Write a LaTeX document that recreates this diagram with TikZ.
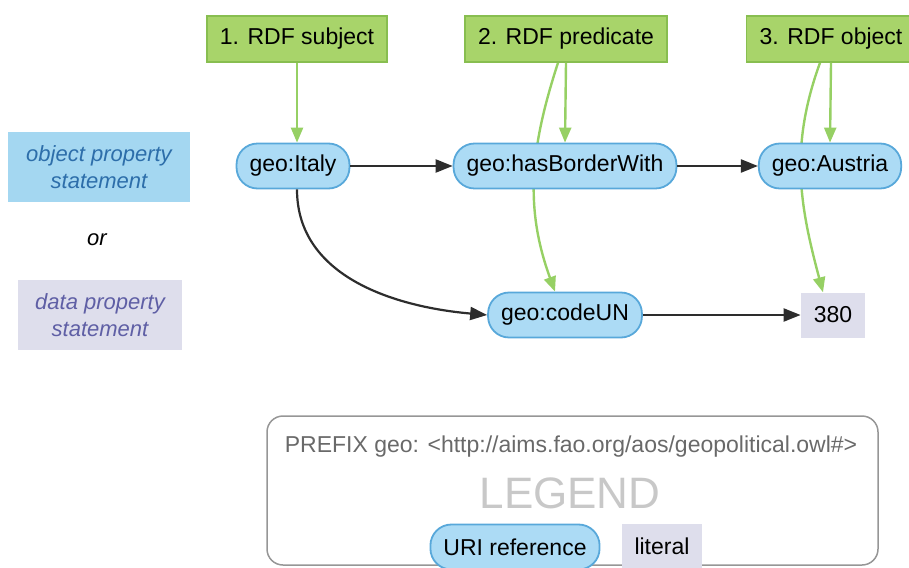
\documentclass[tikz,border=0pt]{standalone}
\usepackage{fontspec}
\setmainfont{Liberation Sans}
\usetikzlibrary{arrows.meta}
\pgfdeclarelayer{back}
\pgfsetlayers{back,main}
\definecolor{rolefill}{RGB}{168,212,106}
\definecolor{roleline}{RGB}{136,190,80}
\definecolor{roleedge}{RGB}{150,208,100}
\definecolor{urifill}{RGB}{172,219,245}
\definecolor{uriline}{RGB}{88,168,218}
\definecolor{litfill}{RGB}{222,222,236}
\definecolor{objfill}{RGB}{164,215,241}
\definecolor{objtext}{RGB}{45,110,170}
\definecolor{datatext}{RGB}{95,95,165}
\definecolor{legline}{RGB}{150,150,150}
\definecolor{prefixtext}{RGB}{105,105,105}
\definecolor{legendtext}{RGB}{200,200,200}
\definecolor{edgeline}{RGB}{45,45,45}
\begin{document}
\begin{tikzpicture}[x=1pt,y=-1pt,
    every node/.style={font=\fontsize{23}{27}\selectfont, inner xsep=13pt, inner ysep=0pt},
    role/.style={draw=roleline, line width=1.5pt, fill=rolefill, minimum height=46pt},
    uri/.style={draw=uriline, line width=1.8pt, fill=urifill, rounded corners=21pt, minimum height=45pt},
    lit/.style={fill=litfill, minimum height=45pt},
    kind/.style={font=\fontsize{22}{27}\selectfont\itshape, align=center, minimum height=70pt},
    link/.style={-{Triangle[length=17pt,width=13pt]}, draw=edgeline, line width=2.2pt},
    rolelink/.style={-{Triangle[length=15pt,width=12pt]}, draw=roleedge, line width=2.4pt}]
  \useasboundingbox (0,0) rectangle (909,567);
  \clip (0,0) rectangle (909,567);
  % RDF roles
  \node[role] (subj) at (297,39) {1. RDF subject};
  \node[role] (pred) at (566,39) {2. RDF predicate};
  \node[role] (obj) at (831,39) {3. RDF object};
  % kinds of statement
  \node[kind, fill=objfill, text=objtext, minimum width=182pt] (objstmt) at (99,167) {object property\\statement};
  \node[font=\fontsize{22}{27}\selectfont\itshape] (or) at (97,240) {or};
  \node[kind, fill=litfill, text=datatext, minimum width=164pt] (datastmt) at (100,315) {data property\\statement};
  % triples
  \node[uri] (italy) at (293,166) {geo:Italy};
  \node[uri] (border) at (565,166) {geo:hasBorderWith};
  \node[uri] (austria) at (830,166) {geo:Austria};
  \node[uri] (code) at (565,315) {geo:codeUN};
  \node[lit] (num) at (833,315) {380};
  % legend
  \node[draw=legline, line width=1.5pt, rounded corners=16pt, minimum width=611pt, minimum height=149pt] (legend) at (572.5,490.5) {};
  \node[text=prefixtext] (prefix) at (571,447) {PREFIX geo: <http://aims.fao.org/aos/geopolitical.owl\#>};
  \node[text=legendtext, font=\fontsize{44}{50}\selectfont] (title) at (570,493) {LEGEND};
  \node[uri] (keyuri) at (515,547) {URI reference};
  \node[lit] (keylit) at (662,546) {literal};
  \begin{scope}
    \draw[link] (italy) -- (border);
    \draw[link] (border) -- (austria);
    \draw[link] ([xshift=4pt]italy.south) to[out=-90,in=175] (code.west);
    \draw[link] (code) -- (num);
    \draw[rolelink] (subj.south) -- (subj.south |- italy.north);
    \draw[rolelink] (pred.south) -- (border.north);
    \draw[rolelink] (obj.south) -- (austria.north);
  \end{scope}
  \begin{pgfonlayer}{back}
    \draw[rolelink] ([xshift=-8pt]pred.south) to[out=-108,in=110] ([xshift=-10pt]code.north);
    \draw[rolelink] ([xshift=-11pt]obj.south) to[out=-110,in=105] ([xshift=-10pt]num.north);
  \end{pgfonlayer}
\end{tikzpicture}
\end{document}
